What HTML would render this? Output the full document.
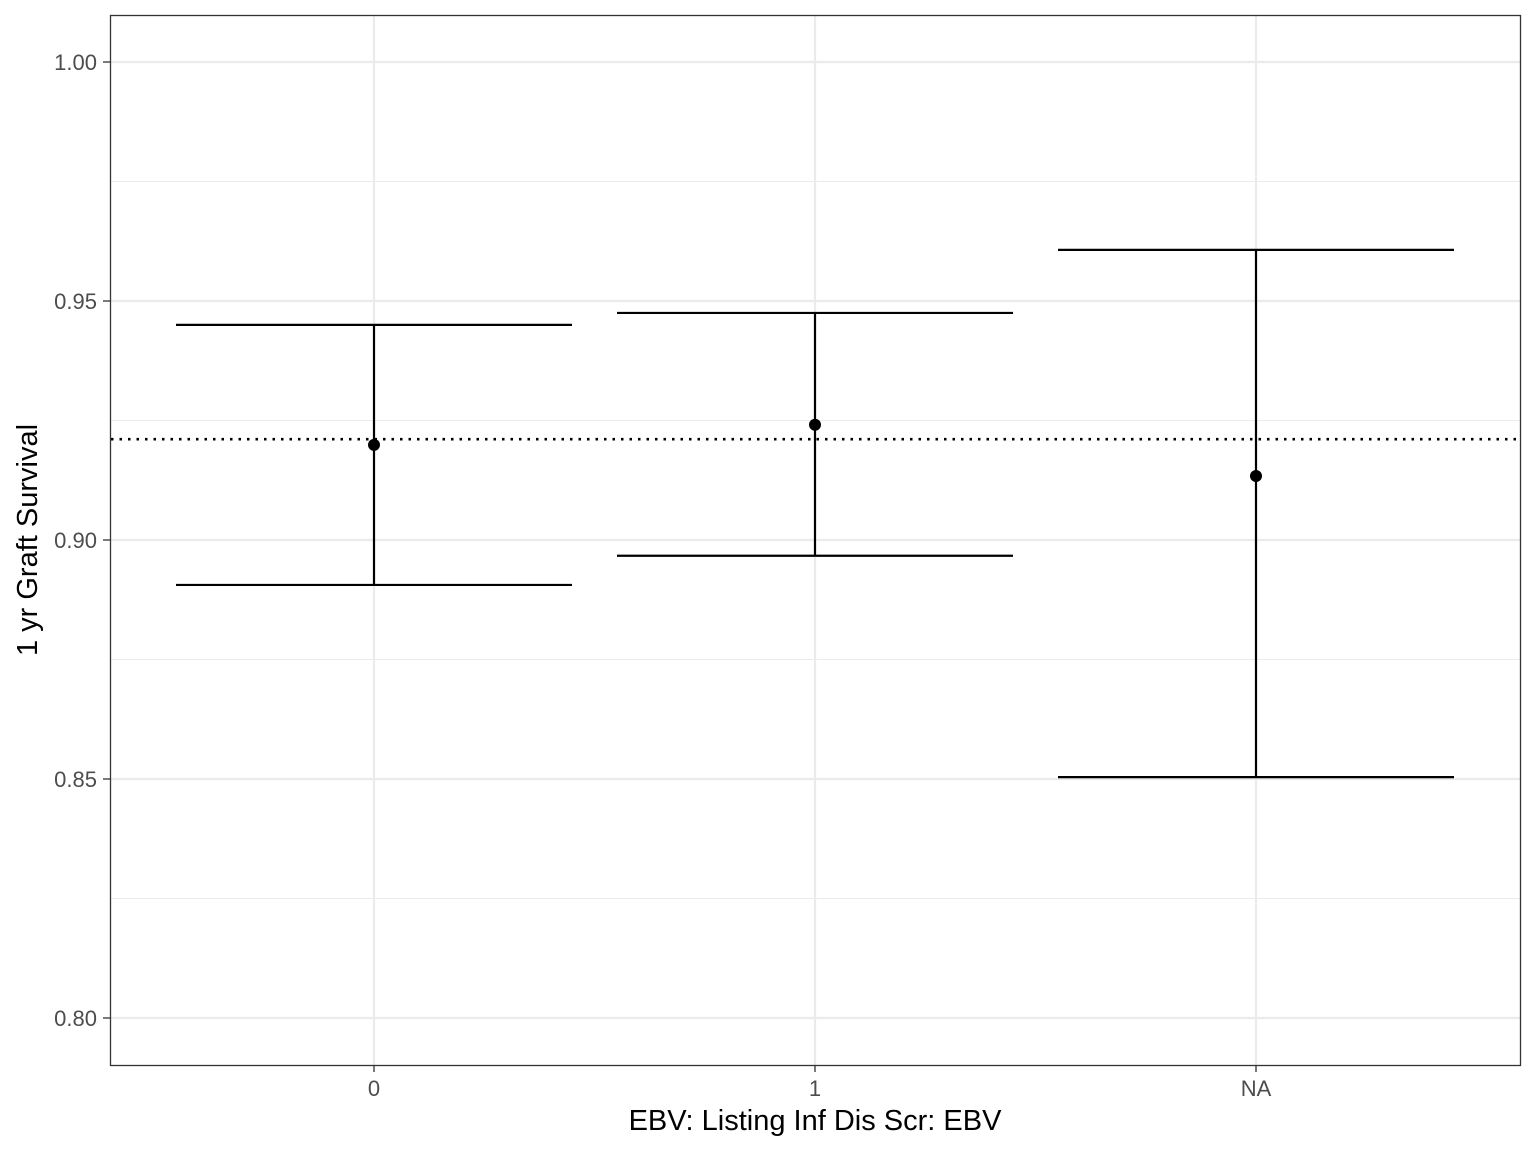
<!DOCTYPE html>
<html><head><meta charset="utf-8"><style>
body{margin:0;background:#fff}
svg text{font-family:"Liberation Sans",Arial,sans-serif}
</style></head><body>
<svg id="chart" width="1536" height="1152" xmlns="http://www.w3.org/2000/svg">
<rect width="1536" height="1152" fill="#fff"/>
<g id="grid"></g>
<g id="marks"></g>
<rect x="110.5" y="15.5" width="1410" height="1050" fill="none" stroke="#333" stroke-width="1.3"/>
<g id="axes"></g>
<text x="815" y="1130" text-anchor="middle" font-size="29" fill="#000">EBV: Listing Inf Dis Scr: EBV</text>
<text transform="translate(37,540) rotate(-90)" text-anchor="middle" font-size="29" fill="#000">1 yr Graft Survival</text>
</svg>
<script>
const categories = ["0", "1", "NA"];
const estimates = [0.9199, 0.9241, 0.9134];
const lowers = [0.8906, 0.8967, 0.8504];
const uppers = [0.9450, 0.9475, 0.9607];
const referenceLine = 0.9211;
const yTicks = [0.80, 0.85, 0.90, 0.95, 1.00];
const yTickLabels = ["0.80", "0.85", "0.90", "0.95", "1.00"];
const yMinor = [0.825, 0.875, 0.925, 0.975];

const NS = "http://www.w3.org/2000/svg";
const x = i => 374 + i * 441;
const y = v => 62 + (1 - v) * 4780;
function mk(tag, attrs, parent) {
  const e = document.createElementNS(NS, tag);
  for (const k in attrs) e.setAttribute(k, attrs[k]);
  parent.appendChild(e);
  return e;
}
const grid = document.getElementById('grid');
const marks = document.getElementById('marks');
const axes = document.getElementById('axes');

yMinor.forEach(v => {
  const l = mk('line', {x1: 111, x2: 1520, y1: y(v), y2: y(v), stroke: '#ebebeb', 'stroke-width': 1.1}, grid);
  
  
});
yTicks.forEach((v, i) => {
  const l = mk('line', {x1: 111, x2: 1520, y1: y(v), y2: y(v), stroke: '#ebebeb', 'stroke-width': 2.2}, grid);
  
  
  const t = mk('line', {x1: 103, x2: 110, y1: y(v), y2: y(v), stroke: '#333', 'stroke-width': 1.3}, axes);
  
  
  const tx = mk('text', {x: 97, y: y(v) + 8, 'text-anchor': 'end', 'font-size': 22, fill: '#4d4d4d'}, axes);
  tx.textContent = yTickLabels[i];
  
  
});
categories.forEach((c, i) => {
  const l = mk('line', {x1: x(i), x2: x(i), y1: 16, y2: 1065, stroke: '#ebebeb', 'stroke-width': 2.2}, grid);
  
  
  const t = mk('line', {x1: x(i), x2: x(i), y1: 1066, y2: 1072, stroke: '#333', 'stroke-width': 1.3}, axes);
  
  
  const tx = mk('text', {x: x(i), y: 1096, 'text-anchor': 'middle', 'font-size': 22, fill: '#4d4d4d'}, axes);
  tx.textContent = c;
  
  
});
const ref = mk('line', {x1: 111, x2: 1520, y1: y(referenceLine), y2: y(referenceLine), stroke: '#000', 'stroke-width': 2.6, 'stroke-dasharray': '2.5 6'}, marks);


categories.forEach((c, i) => {
  const g = mk('g', {}, marks);
  
  
  const w = 198;
  mk('line', {x1: x(i), x2: x(i), y1: y(uppers[i]), y2: y(lowers[i]), stroke: '#000', 'stroke-width': 2.2}, g);
  mk('line', {x1: x(i) - w, x2: x(i) + w, y1: y(uppers[i]), y2: y(uppers[i]), stroke: '#000', 'stroke-width': 2.2}, g);
  mk('line', {x1: x(i) - w, x2: x(i) + w, y1: y(lowers[i]), y2: y(lowers[i]), stroke: '#000', 'stroke-width': 2.2}, g);
  const p = mk('circle', {cx: x(i), cy: y(estimates[i]), r: 6, fill: '#000'}, marks);
  
  
});
</script>
</body></html>
